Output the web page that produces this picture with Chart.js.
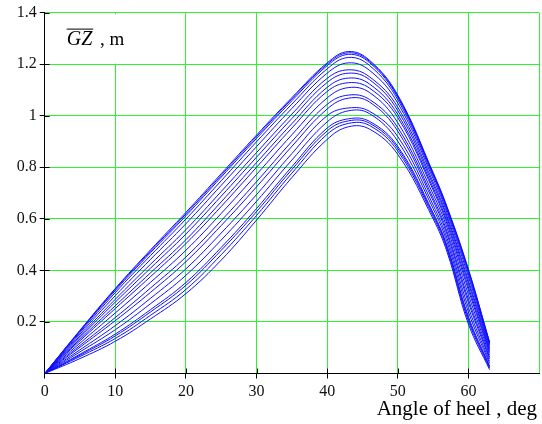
<!DOCTYPE html>
<html>
<head>
<meta charset="utf-8">
<script src="https://cdn.jsdelivr.net/npm/chart.js@4/dist/chart.umd.min.js"></script>
<style>
  html, body { margin: 0; padding: 0; background: #fff; overflow: hidden; }
  #wrap { position: relative; width: 543px; height: 424px; }
</style>
</head>
<body>
<div id="wrap"><canvas id="gz"></canvas></div>
<script>
// Heel angles (deg) at which each righting-arm curve is tabulated
const angleDeg = [0, 5, 10, 15, 20, 25, 30, 35, 40, 43, 46, 50, 55, 57, 60, 63];

// Righting arm GZ (m), one array per loading condition
const gz1  = [0, 0.168, 0.330, 0.480, 0.625, 0.775, 0.925, 1.070, 1.205, 1.249, 1.215, 1.080, 0.780, 0.645, 0.405, 0.122];
const gz2  = [0, 0.166, 0.327, 0.475, 0.619, 0.769, 0.919, 1.065, 1.200, 1.244, 1.211, 1.076, 0.777, 0.642, 0.401, 0.120];
const gz3  = [0, 0.164, 0.322, 0.469, 0.612, 0.762, 0.912, 1.058, 1.194, 1.238, 1.206, 1.071, 0.773, 0.638, 0.397, 0.118];
const gz4  = [0, 0.159, 0.314, 0.458, 0.599, 0.748, 0.899, 1.045, 1.182, 1.226, 1.195, 1.062, 0.766, 0.631, 0.388, 0.113];
const gz5  = [0, 0.153, 0.302, 0.443, 0.581, 0.730, 0.880, 1.028, 1.165, 1.205, 1.176, 1.049, 0.756, 0.621, 0.376, 0.108];
const gz6  = [0, 0.146, 0.288, 0.424, 0.558, 0.706, 0.857, 1.006, 1.145, 1.178, 1.151, 1.033, 0.743, 0.609, 0.361, 0.100];
const gz7  = [0, 0.140, 0.277, 0.409, 0.541, 0.688, 0.839, 0.989, 1.129, 1.165, 1.140, 1.020, 0.733, 0.600, 0.350, 0.094];
const gz8  = [0, 0.133, 0.263, 0.391, 0.519, 0.666, 0.818, 0.969, 1.110, 1.146, 1.123, 1.005, 0.721, 0.588, 0.336, 0.087];
const gz9  = [0, 0.127, 0.252, 0.376, 0.504, 0.648, 0.800, 0.952, 1.094, 1.128, 1.107, 0.993, 0.712, 0.578, 0.324, 0.081];
const gz10 = [0, 0.118, 0.235, 0.354, 0.478, 0.621, 0.772, 0.926, 1.069, 1.109, 1.090, 0.973, 0.696, 0.564, 0.306, 0.072];
const gz11 = [0, 0.109, 0.217, 0.332, 0.452, 0.593, 0.744, 0.900, 1.044, 1.080, 1.063, 0.954, 0.681, 0.549, 0.288, 0.063];
const gz12 = [0, 0.102, 0.205, 0.315, 0.434, 0.574, 0.724, 0.881, 1.026, 1.068, 1.053, 0.940, 0.670, 0.538, 0.275, 0.057];
const gz13 = [0, 0.092, 0.186, 0.292, 0.406, 0.545, 0.694, 0.853, 1.000, 1.030, 1.017, 0.919, 0.654, 0.523, 0.256, 0.047];
const gz14 = [0, 0.084, 0.170, 0.271, 0.381, 0.518, 0.668, 0.828, 0.976, 1.019, 1.008, 0.901, 0.640, 0.509, 0.239, 0.039];
const gz15 = [0, 0.075, 0.153, 0.248, 0.353, 0.489, 0.640, 0.802, 0.952, 0.988, 0.978, 0.881, 0.624, 0.494, 0.221, 0.029];
const gz16 = [0, 0.071, 0.146, 0.239, 0.342, 0.478, 0.628, 0.791, 0.941, 0.980, 0.971, 0.873, 0.618, 0.488, 0.213, 0.026];
const gz17 = [0, 0.066, 0.136, 0.226, 0.326, 0.461, 0.613, 0.777, 0.928, 0.970, 0.962, 0.863, 0.610, 0.480, 0.204, 0.021];
const gz18 = [0, 0.058, 0.125, 0.212, 0.310, 0.440, 0.595, 0.760, 0.908, 0.957, 0.948, 0.850, 0.600, 0.470, 0.192, 0.015];

const gzSeries = [gz1, gz2, gz3, gz4, gz5, gz6, gz7, gz8, gz9, gz10, gz11, gz12, gz13, gz14, gz15, gz16, gz17, gz18];

// Axis ticks
const xTickValues = [0, 10, 20, 30, 40, 50, 60, 70];
const yTickValues = [0.2, 0.4, 0.6, 0.8, 1.0, 1.2, 1.4];

// Axis titles
const xTitle = 'Angle of heel , deg';
const yTitleSymbol = 'GZ';
const yTitleUnit = ' , m';

const GRID = '#2cf52c';
const SERIF = '"Liberation Serif", "Times New Roman", serif';
Chart.defaults.font.family = SERIF;

const datasets = gzSeries.map((arr, i) => ({
  label: 'GZ ' + (i + 1),
  data: angleDeg.map((a, j) => ({ x: a, y: arr[j] })),
  borderColor: '#1010ff',
  borderWidth: 1,
  pointRadius: 0,
  fill: false,
  tension: 0.4
}));

// Tick marks crossing both axes, plus the boxed y-axis caption and the x-axis caption
const decorations = {
  id: 'decorations',
  beforeDatasetsDraw(chart) {
    const { ctx, chartArea, scales } = chart;
    const xs = scales.x, ys = scales.y;
    ctx.save();
    // white box behind the y caption
    ctx.fillStyle = '#fff';
    ctx.fillRect(chartArea.left + 1, chartArea.top + 1.5, 92, 49.5);
    // inward halves of the tick marks
    ctx.strokeStyle = '#000';
    ctx.lineWidth = 1;
    ctx.beginPath();
    xTickValues.forEach(v => {
      if (v === 0 || v >= 70) return;
      const px = Math.round(xs.getPixelForValue(v)) + 0.5;
      ctx.moveTo(px, chartArea.bottom - 5);
      ctx.lineTo(px, chartArea.bottom);
    });
    yTickValues.forEach(v => {
      const py = Math.round(ys.getPixelForValue(v)) + 0.5;
      ctx.moveTo(chartArea.left, py);
      ctx.lineTo(chartArea.left + 5, py);
    });
    ctx.stroke();
    ctx.restore();
  },
  afterDraw(chart) {
    const { ctx, chartArea } = chart;
    ctx.save();
    ctx.fillStyle = '#000';
    ctx.textBaseline = 'alphabetic';
    // y caption: overlined italic GZ followed by the unit
    ctx.font = 'italic 20px ' + SERIF;
    const x0 = chartArea.left + 22;
    const base = chartArea.top + 32;
    ctx.textAlign = 'left';
    ctx.fillText(yTitleSymbol, x0, base);
    const w = ctx.measureText(yTitleSymbol).width;
    ctx.fillRect(x0, base - 16, w + 1, 1);
    ctx.font = '19px ' + SERIF;
    ctx.fillText(yTitleUnit, x0 + w + 3, base);
    // x caption
    ctx.font = '21px ' + SERIF;
    ctx.textAlign = 'right';
    ctx.fillText(xTitle, 537, 415);
    ctx.restore();
  }
};

new Chart(document.getElementById('gz'), {
  type: 'line',
  data: { datasets },
  plugins: [decorations],
  options: {
    responsive: true,
    maintainAspectRatio: false,
    animation: false,
    events: [],
    layout: { padding: { top: 11.3, left: 0, right: 0, bottom: 0 } },
    plugins: { legend: { display: false }, tooltip: { enabled: false }, title: { display: false } },
    scales: {
      x: {
        type: 'linear',
        min: 0,
        max: 70,
        afterFit(s) { s.height = 50.5; },
        afterBuildTicks(s) { s.ticks = xTickValues.map(v => ({ value: v })); },
        border: { display: true, color: '#000', width: 1 },
        grid: {
          color: c => (c.tick && c.tick.value === 0) ? 'rgba(0,0,0,0)' : GRID,
          lineWidth: 1,
          drawTicks: true,
          tickLength: 5,
          tickColor: c => (c.tick && c.tick.value >= 70) ? 'rgba(0,0,0,0)' : '#000'
        },
        ticks: {
          color: '#111',
          font: { family: SERIF, size: 16 },
          padding: 4,
          maxRotation: 0,
          autoSkip: false,
          callback: v => (v >= 70 ? '' : String(v))
        }
      },
      y: {
        type: 'linear',
        min: 0,
        max: 1.4,
        afterFit(s) { s.width = 44.7; },
        afterBuildTicks(s) { s.ticks = yTickValues.map(v => ({ value: v })); },
        border: { display: true, color: '#000', width: 1 },
        grid: {
          color: GRID,
          lineWidth: 1,
          drawTicks: true,
          tickLength: 5,
          tickColor: '#000'
        },
        ticks: {
          color: '#111',
          font: { family: SERIF, size: 16 },
          padding: 3,
          autoSkip: false,
          callback: v => String(Math.round(v * 10) / 10)
        }
      }
    }
  }
});
</script>
</body>
</html>
